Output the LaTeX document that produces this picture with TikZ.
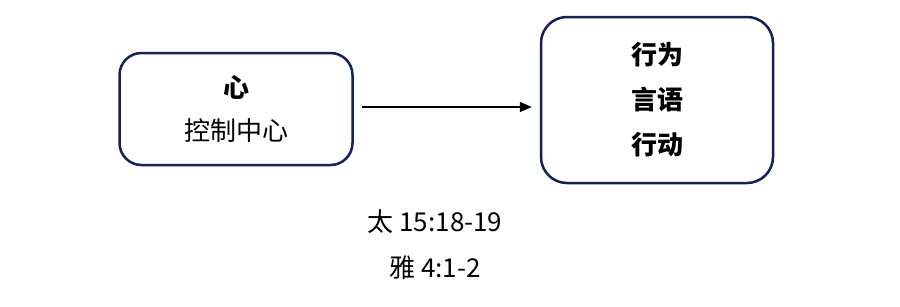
\documentclass[tikz,border=0pt]{standalone}
\usepackage{fontspec}
\usepackage{tikz}
\usetikzlibrary{positioning, arrows.meta}
\setmainfont{Noto Sans CJK SC}
\definecolor{boxnavy}{RGB}{18,32,92}

\begin{document}
\begin{tikzpicture}[x=1pt,y=1pt,
  card/.style={draw=boxnavy, line width=2.5pt, rounded corners=22pt, fill=white,
               align=center, inner sep=0pt},
  verse/.style={align=center, font=\fontsize{26pt}{46pt}\selectfont},
  arr/.style={-{Triangle[length=12pt,width=10pt]}, line width=1.6pt, shorten <=8pt, shorten >=8pt}]

  \useasboundingbox (0,0) rectangle (900,-306);

  %% Source box
  \node[card, minimum width=233pt, minimum height=112pt,
        font=\fontsize{26pt}{43pt}\selectfont] (heart) at (236,-109)
    {\textbf{心}\\控制中心};

  %% Outcome box
  \node[card, minimum width=232pt, minimum height=166pt, rounded corners=26pt,
        font=\fontsize{26pt}{45pt}\selectfont\bfseries] (deeds) at (657,-100)
    {\raisebox{-3pt}{行为}\\\raisebox{-3pt}{言语}\\\raisebox{-3pt}{行动}};

  %% Arrow
  \draw[arr] (heart.east) ++(0,2) coordinate (arrstart) -- (arrstart -| deeds.west);

  %% References below
  \node[verse] (refs) at (435,-245) {太 15:18-19\\雅 4:1-2};
\end{tikzpicture}
\end{document}
